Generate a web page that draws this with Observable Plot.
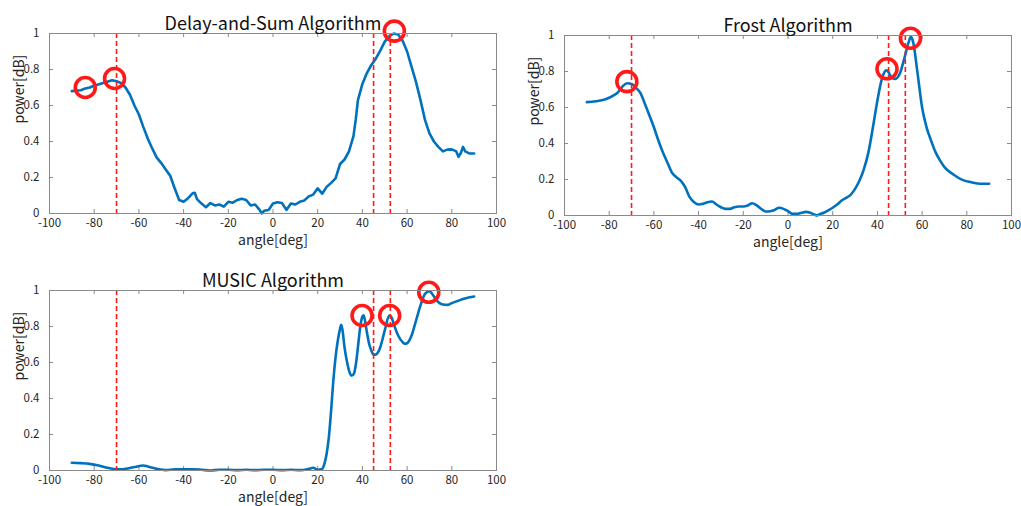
<!DOCTYPE html>
<html>
<head>
<meta charset="utf-8">
<script src="https://cdn.jsdelivr.net/npm/d3@7"></script>
<script src="https://cdn.jsdelivr.net/npm/@observablehq/plot@0.6"></script>
<style>
  html, body { margin: 0; padding: 0; background: #fff; }
  #wrap { position: relative; width: 1021px; height: 506px; background: #fff; overflow: hidden; }
  #wrap > svg, #wrap > figure { position: absolute; margin: 0; }
</style>
</head>
<body>
<div id="wrap"></div>
<script>
// ---------- data ----------
const xTicks = [-100, -80, -60, -40, -20, 0, 20, 40, 60, 80, 100];
const xTickLabels = ["-100", "-80", "-60", "-40", "-20", "0", "20", "40", "60", "80", "100"];
const yTicks = [0, 0.2, 0.4, 0.6, 0.8, 1];
const yTickLabels = ["0", "0.2", "0.4", "0.6", "0.8", "1"];
const trueAngles = [-70, 45, 52.5];

const titles = ["Delay-and-Sum Algorithm", "Frost Algorithm", "MUSIC Algorithm"];
const xLabel = "angle[deg]";
const yLabel = "power[dB]";

const dsAngle = [-90,-86,-84,-82,-80,-76,-72,-70,-68,-66,-64,-62,-60,-58,-56,-54,-52,-50,-48,-46,-44,-42,-40,-38,-36,-35,-34,-32,-30,-28,-26,-24,-22,-20,-18,-16,-14,-12,-10,-8,-6,-5,-4,-2,0,2,4,6,8,10,12,14,16,18,20,22,24,26,28,30,32,34,36,37,38,40,42,44,46,48,50,52,54,56,58,60,62,64,66,68,70,72,74,76,78,80,82,83,84,85,86,88,90];
const dsPower = [0.68,0.685,0.695,0.70,0.71,0.725,0.74,0.735,0.725,0.70,0.66,0.60,0.55,0.48,0.415,0.36,0.31,0.28,0.245,0.21,0.14,0.075,0.065,0.085,0.112,0.115,0.08,0.055,0.035,0.058,0.045,0.05,0.038,0.065,0.06,0.075,0.082,0.075,0.045,0.05,0.02,0.0,0.015,0.02,0.055,0.062,0.058,0.02,0.055,0.05,0.065,0.072,0.095,0.105,0.14,0.11,0.148,0.17,0.195,0.275,0.30,0.345,0.43,0.52,0.63,0.72,0.78,0.825,0.86,0.905,0.955,0.985,1.0,0.995,0.96,0.90,0.815,0.73,0.63,0.52,0.445,0.40,0.37,0.345,0.355,0.356,0.345,0.315,0.335,0.37,0.345,0.333,0.333];
const dsPeakAngle = [-84, -70.9, 54.3];
const dsPeakPower = [0.70, 0.75, 1.013];

const frostAngle = [-90,-86,-82,-78,-76,-74,-72,-70,-68,-66,-64,-62,-60,-58,-56,-54,-52,-50,-48,-46,-44,-42,-40,-38,-36,-34,-32,-30,-28,-26,-24,-22,-20,-18,-16,-14,-12,-10,-8,-6,-4,-2,0,2,4,6,8,10,12,13,14,16,18,20,22,24,26,28,30,32,34,36,38,40,42,44,45,46,48,50,52,54,55,56,58,60,62,64,66,68,70,74,78,82,86,90];
const frostPower = [0.63,0.635,0.644,0.667,0.685,0.717,0.735,0.731,0.709,0.68,0.62,0.556,0.49,0.417,0.352,0.296,0.24,0.213,0.194,0.157,0.102,0.074,0.061,0.065,0.074,0.078,0.061,0.046,0.037,0.037,0.046,0.05,0.05,0.056,0.068,0.056,0.037,0.022,0.024,0.031,0.043,0.037,0.024,0.009,0.009,0.015,0.02,0.015,0.004,0.0,0.006,0.015,0.028,0.043,0.061,0.083,0.098,0.115,0.148,0.194,0.259,0.352,0.49,0.639,0.759,0.806,0.796,0.772,0.759,0.787,0.87,0.963,0.994,0.963,0.787,0.60,0.49,0.417,0.352,0.306,0.269,0.228,0.198,0.185,0.176,0.176];
const frostPeakAngle = [-72.1, 44.3, 54.8];
const frostPeakPower = [0.744, 0.815, 0.985];

const musicAngle = [-90,-86,-82,-78,-74,-70,-68,-66,-62,-58,-56,-52,-48,-44,-40,-36,-32,-28,-24,-20,-16,-12,-8,-4,0,4,8,12,16,18,20,22,23,24,25,26,27,28,29,30,30.5,31,32,33,34,35,36,37,38,39,40,40.5,41,42,43,44,45,46,47,48,50,52,53,54,56,58,59,60,62,64,66,68,70,72,74,76,78,80,84,88,90];
const musicPower = [0.043,0.041,0.037,0.028,0.015,0.006,0.006,0.009,0.019,0.028,0.022,0.009,0.002,0.006,0.007,0.007,0.004,0.0,0.004,0.004,0.002,0.004,0.002,0.004,0.004,0.002,0.004,0.002,0.009,0.015,0.004,0.009,0.037,0.093,0.185,0.333,0.50,0.63,0.722,0.787,0.81,0.787,0.685,0.611,0.556,0.528,0.533,0.583,0.685,0.796,0.855,0.862,0.843,0.769,0.704,0.667,0.644,0.644,0.657,0.685,0.778,0.861,0.852,0.815,0.75,0.713,0.704,0.707,0.75,0.833,0.917,0.981,0.996,0.967,0.935,0.922,0.92,0.93,0.948,0.963,0.967];
const musicPeakAngle = [39.85, 52.2, 69.7];
const musicPeakPower = [0.861, 0.861, 0.99];

// ---------- drawing ----------
const FONT = "'Noto Sans CJK JP', 'Noto Sans', sans-serif";
const BLUE = "#0072BD";
const RED = "#ff1a1a";
const FRAME = "#8a8a8a";
const TEXT = "#262626";

function zip(a, b) { return a.map((x, i) => ({x, y: b[i]})); }

function panel({title, angle, power, peakA, peakP, curve, width, height, mt, mr, mb, ml, left, top}) {
  const fw = width - ml - mr;
  const fh = height - mt - mb;
  const tick = 4;
  const svg = Plot.plot({
    width, height,
    marginTop: mt, marginRight: mr, marginBottom: mb, marginLeft: ml,
    style: {fontFamily: FONT, fontSize: "11.5px", color: TEXT, background: "transparent", overflow: "visible"},
    x: {domain: [-100, 100], axis: null},
    y: {domain: [0, 1], axis: null},
    marks: [
      // tick labels
      Plot.axisX(xTicks, {anchor: "bottom", tickSize: 0, tickPadding: 5, label: null, fill: TEXT,
        tickFormat: d => xTickLabels[xTicks.indexOf(d)]}),
      Plot.axisY(yTicks, {anchor: "left", tickSize: 0, tickPadding: 10, label: null, fill: TEXT,
        tickFormat: d => yTickLabels[yTicks.indexOf(d)]}),
      // inward ticks on four sides
      Plot.ruleX(xTicks, {x: d => d, stroke: FRAME, insetTop: fh - tick}),
      Plot.ruleX(xTicks, {x: d => d, stroke: FRAME, insetBottom: fh - tick}),
      Plot.ruleY(yTicks, {y: d => d, stroke: FRAME, insetRight: fw - tick}),
      Plot.ruleY(yTicks, {y: d => d, stroke: FRAME, insetLeft: fw - tick}),
      // data
      Plot.line(zip(angle, power), {x: "x", y: "y", stroke: BLUE, strokeWidth: 2.6, curve}),
      Plot.ruleX(trueAngles, {x: d => d, stroke: RED, strokeWidth: 1.6, strokeDasharray: "5,3"}),
      Plot.dot(zip(peakA, peakP), {x: "x", y: "y", r: 10, stroke: RED, strokeWidth: 3.6, fill: "none"}),
      Plot.frame({stroke: FRAME, strokeWidth: 1}),
      // titles and axis labels
      Plot.text([title], {frameAnchor: "top", lineAnchor: "bottom", dy: -4, fontSize: 18, fill: "#111"}),
      Plot.text([xLabel], {frameAnchor: "bottom", lineAnchor: "middle", dy: 27, fontSize: 14, fill: TEXT}),
      Plot.text([yLabel], {frameAnchor: "left", lineAnchor: "middle", rotate: -90, dx: -30, fontSize: 14, fill: TEXT})
    ]
  });
  svg.style.left = left + "px";
  svg.style.top = top + "px";
  document.getElementById("wrap").appendChild(svg);
}

panel({title: titles[0], angle: dsAngle, power: dsPower, peakA: dsPeakAngle, peakP: dsPeakPower, curve: "linear",
  width: 510, height: 250, mt: 33, mr: 14, mb: 37, ml: 49, left: 0, top: 0});
panel({title: titles[1], angle: frostAngle, power: frostPower, peakA: frostPeakAngle, peakP: frostPeakPower, curve: "monotone-x",
  width: 511, height: 250, mt: 35, mr: 10, mb: 35, ml: 54, left: 510, top: 0});
panel({title: titles[2], angle: musicAngle, power: musicPower, peakA: musicPeakAngle, peakP: musicPeakPower, curve: "monotone-x",
  width: 510, height: 256, mt: 40, mr: 14, mb: 36, ml: 49, left: 0, top: 250});
</script>
</body>
</html>
